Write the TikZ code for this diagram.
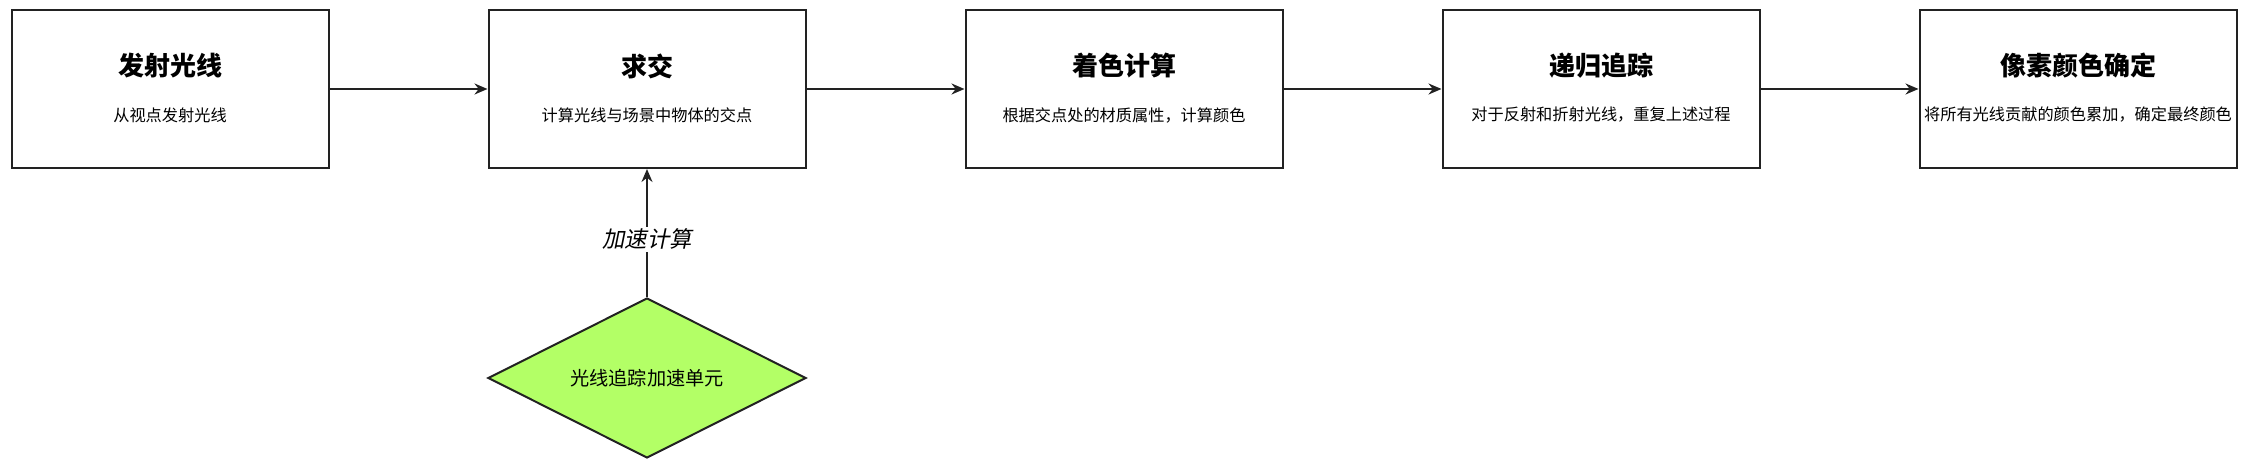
\documentclass[tikz,border=0pt]{standalone}
\usepackage{fontspec}
\setmainfont{Noto Sans CJK SC}[AutoFakeSlant=0.2]
\usetikzlibrary{arrows.meta}
\usetikzlibrary{positioning}
\usetikzlibrary{shapes.geometric}
\definecolor{edge}{HTML}{222222}
\definecolor{unitgreen}{HTML}{B3FF66}

\begin{document}
\begin{tikzpicture}[x=0.5pt,y=-0.5pt,
  stage/.style={draw=edge,line width=1pt,minimum width=158.5pt,minimum height=79pt,inner sep=0pt},
  head/.style={font=\fontsize{13pt}{15pt}\selectfont\bfseries},
  note/.style={font=\fontsize{8.1pt}{10pt}\selectfont},
  flow/.style={-{Stealth[length=6.5pt,width=5.5pt]},draw=edge,line width=1pt},
  node distance=79pt]
\useasboundingbox (0,0) rectangle (2253,464);

% pipeline stages
\node[stage] (emit) at (170,89) {};
\node[stage,right=of emit] (hit) {};
\node[stage,right=of hit] (shade) {};
\node[stage,right=of shade] (recur) {};
\node[stage,right=of recur] (pixel) {};

\node[head] (emit head) at ([yshift=11.5pt]emit.center) {发射光线};
\node[note] (emit note) at ([yshift=-13pt]emit.center) {从视点发射光线};
\node[head] (hit head) at ([yshift=11.5pt]hit.center) {求交};
\node[note] (hit note) at ([yshift=-13pt]hit.center) {计算光线与场景中物体的交点};
\node[head] (shade head) at ([yshift=11.5pt]shade.center) {着色计算};
\node[note] (shade note) at ([yshift=-13pt]shade.center) {根据交点处的材质属性，计算颜色};
\node[head] (recur head) at ([yshift=11.5pt]recur.center) {递归追踪};
\node[note] (recur note) at ([yshift=-13pt]recur.center) {对于反射和折射光线，重复上述过程};
\node[head] (pixel head) at ([yshift=11.5pt]pixel.center) {像素颜色确定};
\node[note] (pixel note) at ([yshift=-13pt]pixel.center) {将所有光线贡献的颜色累加，确定最终颜色};

\draw[flow] (emit) -- (hit);
\draw[flow] (hit) -- (shade);
\draw[flow] (shade) -- (recur);
\draw[flow] (recur) -- (pixel);

% acceleration unit
\node[diamond,draw=edge,line width=1pt,fill=unitgreen,minimum width=159pt,minimum height=80pt,aspect=2,inner sep=0pt,
  font=\fontsize{9.6pt}{11pt}\selectfont,below=64pt of hit] (accel) {光线追踪加速单元};
\draw[flow] (accel) -- node[pos=0.45,fill=white,inner sep=1pt,font=\fontsize{11.2pt}{13pt}\selectfont\itshape] (accel label) {加速计算} (hit);
\end{tikzpicture}
\end{document}
